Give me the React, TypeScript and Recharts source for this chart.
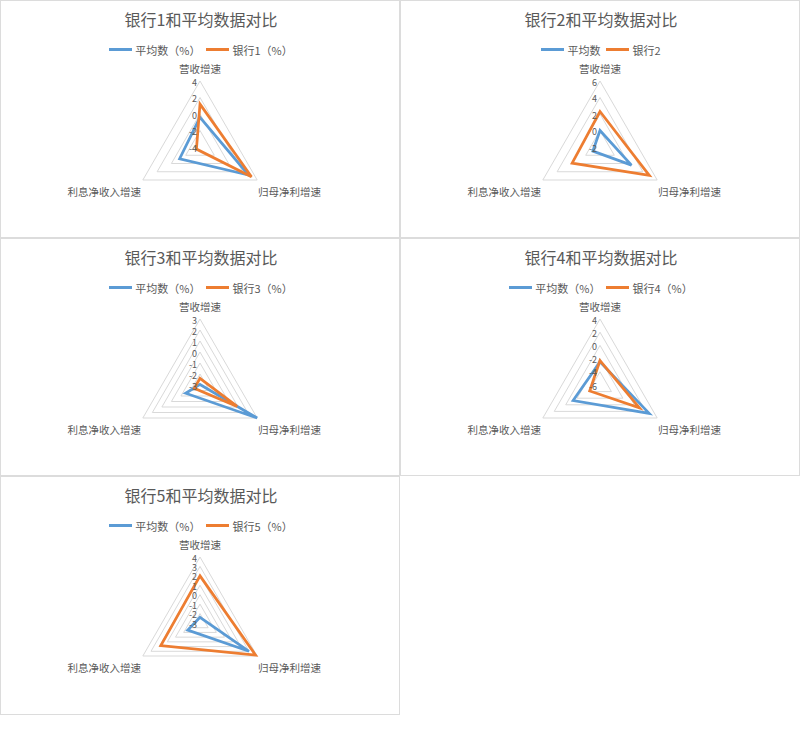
import { RadarChart, Radar, PolarGrid, PolarAngleAxis, PolarRadiusAxis } from 'recharts'

// three indicators, clockwise from the top
const categories = ['营收增速', '归母净利增速', '利息净收入增速']

const titles = [
  '银行1和平均数据对比',
  '银行2和平均数据对比',
  '银行3和平均数据对比',
  '银行4和平均数据对比',
  '银行5和平均数据对比'
]
const avgNames = ['平均数（%）', '平均数', '平均数（%）', '平均数（%）', '平均数（%）']
const bankNames = ['银行1（%）', '银行2', '银行3（%）', '银行4（%）', '银行5（%）']

const avgValues = [
  [-0.4, 2.8, -1.15],
  [0, 2.4, -1.0],
  [-2.95, 3.0, -1.5],
  [-2.5, 2.6, -1.3],
  [-2.4, 3.0, -1.5]
]
const bankValues = [
  [1.2, 3.2, -3.5],
  [2.3, 4.9, 1.9],
  [-2.4, 0.9, -2.4],
  [-2.3, 0.9, -4.2],
  [2.0, 3.8, 1.8]
]
const radiusTicks = [
  [-4, -2, 0, 2, 4],
  [-2, 0, 2, 4, 6],
  [-3, -2, -1, 0, 1, 2, 3],
  [-6, -4, -2, 0, 2, 4],
  [-3, -2, -1, 0, 1, 2, 3, 4]
]

const BLUE = '#5b9bd5'
const ORANGE = '#ed7d31'
const GREY = '#595959'

const panelPos = [
  [0, 0],
  [400, 0],
  [0, 238],
  [400, 238],
  [0, 476]
]

function AngleTick(p: any) {
  const { x, y, textAnchor, payload } = p
  let dx = 0
  let dy = -5
  if (textAnchor === 'start') { dx = -6; dy = 7 }
  if (textAnchor === 'end') { dx = 5; dy = 7 }
  return (
    <text x={x + dx} y={y + dy} textAnchor={textAnchor} dominantBaseline="central" fontSize={10.5} fill={GREY}>
      {payload.value}
    </text>
  )
}

function RadiusTick(p: any) {
  const { x, y, payload } = p
  return (
    <text x={x - 3} y={y + 1} textAnchor="end" dominantBaseline="central" fontSize={9} fill={GREY}>
      {payload.value}
    </text>
  )
}

function LegendItem({ color, label }: { color: string; label: string }) {
  return (
    <span style={{ display: 'inline-flex', alignItems: 'center', margin: '0 3px' }}>
      <span style={{ display: 'inline-block', width: 23, height: 3, background: color, marginRight: 3 }} />
      <span>{label}</span>
    </span>
  )
}

function Panel({ i }: { i: number }) {
  const data = categories.map((c, k) => ({
    name: c,
    avg: avgValues[i][k],
    bank: bankValues[i][k]
  }))
  const ticks = radiusTicks[i]
  return (
    <div
      style={{
        position: 'absolute',
        left: panelPos[i][0],
        top: panelPos[i][1],
        width: 400,
        height: i === 4 ? 239 : 238,
        border: '1px solid #dcdcdc',
        boxSizing: 'border-box'
      }}
    >
      <div style={{ position: 'absolute', top: 6, left: 0, width: 400, textAlign: 'center', fontSize: 16, color: GREY }}>
        {titles[i]}
      </div>
      <div style={{ position: 'absolute', top: 37, left: 0, width: 400, textAlign: 'center', fontSize: 11, color: GREY }}>
        <LegendItem color={BLUE} label={avgNames[i]} />
        <LegendItem color={ORANGE} label={bankNames[i]} />
      </div>
      <RadarChart
        width={398}
        height={236}
        data={data}
        cx={199}
        cy={146}
        outerRadius={66}
        margin={{ top: 0, right: 0, bottom: 0, left: 0 }}
      >
        <PolarGrid gridType="polygon" radialLines={false} stroke="#d9d9d9" />
        <PolarAngleAxis dataKey="name" tick={AngleTick} tickLine={false} axisLine={false} />
        <PolarRadiusAxis
          angle={90}
          domain={[ticks[0], ticks[ticks.length - 1]]}
          ticks={ticks}
          tickCount={ticks.length}
          tick={RadiusTick}
          axisLine={false}
          tickLine={false}
        />
        <Radar dataKey="avg" name={avgNames[i]} stroke={BLUE} strokeWidth={2.75} fill={BLUE} fillOpacity={0} dot={false} isAnimationActive={false} />
        <Radar dataKey="bank" name={bankNames[i]} stroke={ORANGE} strokeWidth={2.75} fill={ORANGE} fillOpacity={0} dot={false} isAnimationActive={false} />
      </RadarChart>
    </div>
  )
}

export default function App() {
  return (
    <div
      style={{
        position: 'absolute',
        left: 0,
        top: 0,
        width: 800,
        height: 739,
        background: '#fff',
        fontFamily: "'Noto Sans CJK SC', sans-serif"
      }}
    >
      {titles.map((t, i) => (
        <Panel key={t} i={i} />
      ))}
    </div>
  )
}
